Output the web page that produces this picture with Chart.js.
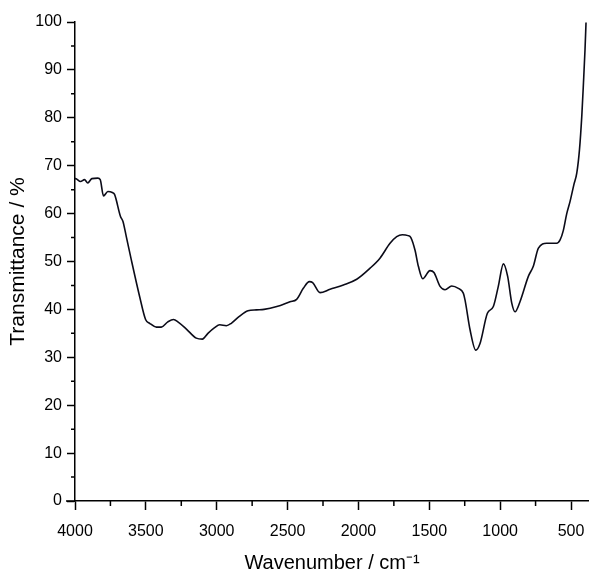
<!DOCTYPE html>
<html>
<head>
<meta charset="utf-8">
<script src="https://cdn.jsdelivr.net/npm/chart.js@4/dist/chart.umd.min.js"></script>
<style>
  html, body { margin: 0; padding: 0; background: #fff; }
  #wrap { width: 589px; height: 577px; }
</style>
</head>
<body>
<div id="wrap"><canvas id="irChart"></canvas></div>
<script>
// FTIR spectrum
const wavenumber = [
  4000, 3996, 3961, 3933, 3910, 3881, 3839, 3822, 3799, 3768, 3737, 3721,
  3679, 3662, 3638, 3603, 3544, 3502, 3473, 3426, 3391, 3345, 3304, 3274,
  3214, 3144, 3101, 3062, 3015, 2979, 2932, 2897, 2838, 2779, 2720, 2666,
  2576, 2483, 2436, 2389, 2346, 2323, 2271, 2200, 2106, 2012, 1918, 1848,
  1777, 1730, 1690, 1650, 1630, 1601, 1577, 1546, 1495, 1467, 1424, 1389,
  1342, 1295, 1260, 1248, 1212, 1172, 1142, 1090, 1048, 1013, 977, 947,
  918, 895, 860, 801, 766, 730, 672, 601, 577, 554, 530, 507,
  480, 459, 440, 424, 412, 401, 394
];
const transmittance = [
  67.3, 67.3, 66.7, 67.1, 66.4, 67.3, 67.4, 67.1, 63.7, 64.6, 64.4, 64.0,
  59.4, 58.4, 55.2, 50.4, 42.7, 37.9, 37.1, 36.3, 36.3, 37.4, 37.9, 37.4,
  35.9, 34.0, 33.8, 35.0, 36.2, 36.8, 36.6, 37.1, 38.6, 39.7, 39.9, 40.0,
  40.6, 41.6, 42.1, 44.4, 45.8, 45.6, 43.5, 44.2, 45.1, 46.3, 48.6, 50.7,
  53.8, 55.2, 55.6, 55.4, 55.0, 52.4, 49.0, 46.4, 48.1, 47.7, 44.8, 44.1,
  44.9, 44.4, 43.4, 42.0, 35.7, 31.5, 32.9, 39.2, 40.6, 44.8, 49.5, 46.9,
  41.3, 39.5, 41.6, 46.9, 49.0, 52.8, 53.8, 53.8, 54.5, 56.5, 60.0, 62.5,
  66.0, 68.5, 73.4, 80.3, 87.3, 94.3, 99.9
];

// tick values
const xMajor = [4000, 3500, 3000, 2500, 2000, 1500, 1000, 500];
const xMinor = [3750, 3250, 2750, 2250, 1750, 1250, 750];
const yMajor = [0, 10, 20, 30, 40, 50, 60, 70, 80, 90, 100];
const yMinor = [5, 15, 25, 35, 45, 55, 65, 75, 85, 95];

const points = wavenumber.map((w, i) => ({ x: w, y: transmittance[i] }));
const fontFamily = "Arial, 'Liberation Sans', sans-serif";

// short minor ticks, and the x axis line poking out left of the y axis
const minorTicks = {
  id: 'minorTicks',
  afterDraw(chart) {
    const ctx = chart.ctx;
    const xs = chart.scales.x, ys = chart.scales.y;
    const area = chart.chartArea;
    ctx.save();
    ctx.strokeStyle = '#000';
    ctx.lineWidth = 1.5;
    ctx.beginPath();
    xMinor.forEach(v => {
      const px = xs.getPixelForValue(v);
      ctx.moveTo(px, area.bottom);
      ctx.lineTo(px, area.bottom + 5);
    });
    yMinor.forEach(v => {
      const py = ys.getPixelForValue(v);
      ctx.moveTo(area.left, py);
      ctx.lineTo(area.left - 4, py);
    });
    ctx.moveTo(area.left - 9, area.bottom);
    ctx.lineTo(area.left, area.bottom);
    ctx.stroke();
    ctx.restore();
  }
};

new Chart(document.getElementById('irChart'), {
  type: 'scatter',
  data: {
    datasets: [{
      data: points,
      showLine: true,
      borderColor: '#0b0b18',
      borderWidth: 1.6,
      pointRadius: 0,
      cubicInterpolationMode: 'monotone',
      clip: false
    }]
  },
  options: {
    responsive: true,
    maintainAspectRatio: false,
    animation: false,
    layout: { padding: { top: 22, right: 0, left: 0, bottom: 0 } },
    plugins: {
      legend: { display: false },
      tooltip: { enabled: false }
    },
    scales: {
      x: {
        type: 'linear',
        reverse: true,
        min: 373,
        max: 4000,
        afterBuildTicks: s => { s.ticks = xMajor.map(v => ({ value: v })); },
        afterFit: s => { s.height = 76; s.paddingRight = 0; },
        border: { display: true, color: '#000', width: 1.5 },
        grid: { drawOnChartArea: false, drawTicks: true, tickLength: 9, tickColor: '#000', tickWidth: 1.5 },
        ticks: {
          color: '#000',
          font: { family: fontFamily, size: 16 },
          padding: 12,
          maxRotation: 0,
          autoSkip: false,
          callback: v => String(v)
        },
        title: {
          display: true,
          text: 'Wavenumber / cm⁻¹',
          color: '#000',
          font: { family: fontFamily, size: 20 },
          padding: { top: 0, bottom: 2 }
        }
      },
      y: {
        type: 'linear',
        min: 0,
        max: 100,
        afterBuildTicks: s => { s.ticks = yMajor.map(v => ({ value: v })); },
        afterFit: s => { s.width = 75; },
        border: { display: true, color: '#000', width: 1.5 },
        grid: { drawOnChartArea: false, drawTicks: true, tickLength: 8, tickColor: '#000', tickWidth: 1.5 },
        ticks: {
          color: '#000',
          font: { family: fontFamily, size: 16 },
          padding: 5,
          autoSkip: false
        },
        title: {
          display: true,
          text: 'Transmittance / %',
          color: '#000',
          font: { family: fontFamily, size: 21 },
          padding: { top: 6, bottom: 0 }
        }
      }
    }
  },
  plugins: [minorTicks]
});
</script>
</body>
</html>
